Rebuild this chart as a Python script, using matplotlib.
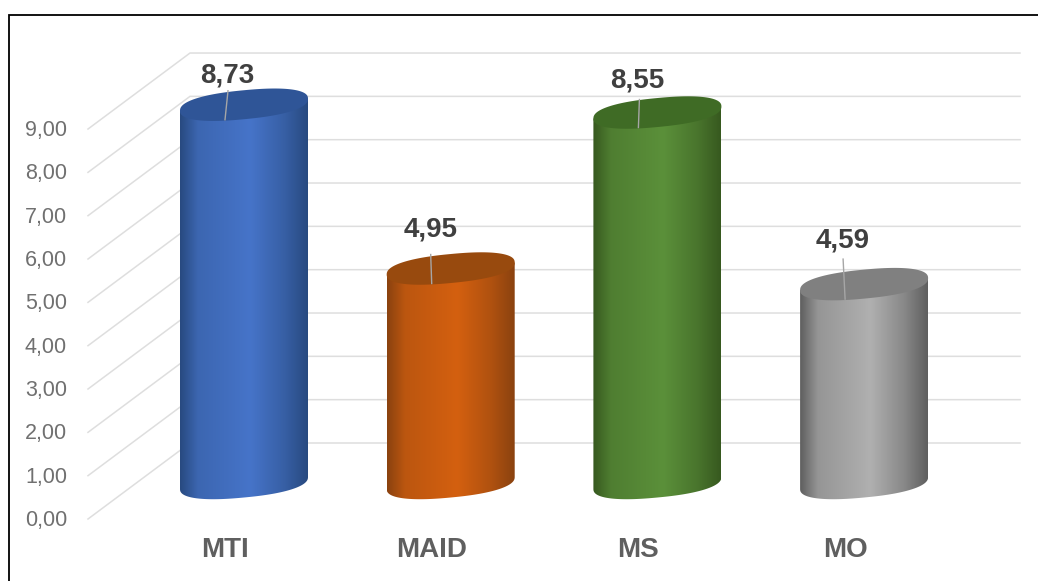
import numpy as np
import matplotlib
matplotlib.use("Agg")
import matplotlib.pyplot as plt
from matplotlib.patches import Polygon
from matplotlib.colors import LinearSegmentedColormap, to_rgb

plt.rcParams['font.family'] = ['Liberation Sans', 'DejaVu Sans']

categories = ["MTI", "MAID", "MS", "MO"]
values = [8.73, 4.95, 8.55, 4.59]
tick_values = list(range(10))
tick_labels = [f"{v:.2f}".replace(".", ",") for v in tick_values]

# shades for each cylinder: wall edge, wall highlight, cap
edge_colors = ["#284a80", "#8a4210", "#37591f", "#5f5f5f"]
mid_colors = ["#4674c9", "#d4600f", "#5b903a", "#b0b0b0"]
cap_colors = ["#2f5597", "#984a0e", "#3f6b25", "#808080"]

# pixel offsets of each value label and the top of its leader line, from the cap centre
label_offsets = [(-17, 30), (-20, 40), (-20, 33), (-21, 45)]
leader_tops = [(-16, 14), (-20, 14), (-18, 13), (-21, 25)]

W, H = 1038, 581
PX_PER_CAT = 206.7
PX_PER_UNIT = 43.33
X0_PX, Y0_PX = 244.0, 519.0     # category 0 centre, value 0 on the front edge

fig = plt.figure(figsize=(W / 100, H / 100), dpi=100)
ax = fig.add_axes([0, 0, 1, 1])
ax.axis("off")


def dx(px):
    return px / PX_PER_CAT


def dy(px):
    return px / PX_PER_UNIT


def blend(c1, c2, w):
    return tuple((1 - w) * a + w * b for a, b in zip(to_rgb(c1), to_rgb(c2)))


# walls of the 3D box
x_front = dx(88 - X0_PX)
x_back = dx(190 - X0_PX)
x_end = dx(1020 - X0_PX)
rise = dy(76)
for v in tick_values:
    ax.plot([x_front, x_back, x_end], [v, v + rise, v + rise],
            color="#dedede", lw=1.1, zorder=1, solid_joinstyle="miter")
    ax.text(dx(67 - X0_PX), v + dy(0.5) - dy(2), tick_labels[v], ha="right", va="center",
            fontsize=15.5, color="#707070", zorder=5)

# cylinders
base_rise = dy(36)
half_w = dx(64)
t = np.linspace(0, 2 * np.pi, 361)
# slightly squared ellipse, so the rim rounds off where it meets the wall
cos_s = np.sign(np.cos(t)) * np.abs(np.cos(t)) ** 0.85
sin_s = np.sign(np.sin(t)) * np.abs(np.sin(t)) ** 0.85
ell_x = half_w * cos_s
ell_y = dy(14.5) * sin_s + dy(6) * cos_s
lower = t >= np.pi

for i, (name, v) in enumerate(zip(categories, values)):
    top = v + base_rise

    wall = np.column_stack([
        np.r_[i + ell_x[lower], i + ell_x[0], i + ell_x[180]],
        np.r_[base_rise + ell_y[lower], top + ell_y[0], top + ell_y[180]],
    ])
    clip = Polygon(wall, closed=True, transform=ax.transData,
                   facecolor="none", edgecolor="none")
    ax.add_patch(clip)

    stops = [(0, edge_colors[i]),
             (0.14, blend(edge_colors[i], mid_colors[i], 0.67)),
             (0.55, mid_colors[i]),
             (0.82, blend(edge_colors[i], mid_colors[i], 0.5)),
             (1, edge_colors[i])]
    cmap = LinearSegmentedColormap.from_list(name, stops)
    im = ax.imshow(np.linspace(0, 1, 256)[None, :], cmap=cmap, aspect="auto",
                   extent=(i - half_w, i + half_w, base_rise - dy(20), top + dy(20)),
                   zorder=3, interpolation="bilinear")
    im.set_clip_path(clip)

    ax.fill(i + ell_x, top + ell_y, color=cap_colors[i], lw=0, zorder=4)

    ox, oy = label_offsets[i]
    lx, ly = leader_tops[i]
    ax.plot([i + dx(lx), i + dx(-19)], [top + dy(ly), top - dy(15)],
            color="#a6a6a6", lw=1.0, zorder=5)
    ax.text(i + dx(ox), top + dy(oy - 1), f"{v:.2f}".replace(".", ","),
            ha="center", va="center", fontsize=20, fontweight="bold",
            color="#404040", zorder=6)
    ax.text(i + dx(-19), dy(-31), name, ha="center", va="center",
            fontsize=20, fontweight="bold", color="#5f5f5f", zorder=6)

ax.set_xlim(-X0_PX / PX_PER_CAT, (W - X0_PX) / PX_PER_CAT)
ax.set_ylim(-(H - Y0_PX) / PX_PER_UNIT, Y0_PX / PX_PER_UNIT)

# chart frame, open towards the right and bottom edges
frame_x = dx(9 - X0_PX)
frame_y = dy(Y0_PX - 15)
ax.plot([frame_x, frame_x, ax.get_xlim()[1]], [ax.get_ylim()[0], frame_y, frame_y],
        color="black", lw=1.3, zorder=7, solid_joinstyle="miter")

fig.savefig("out.png", dpi=100)
